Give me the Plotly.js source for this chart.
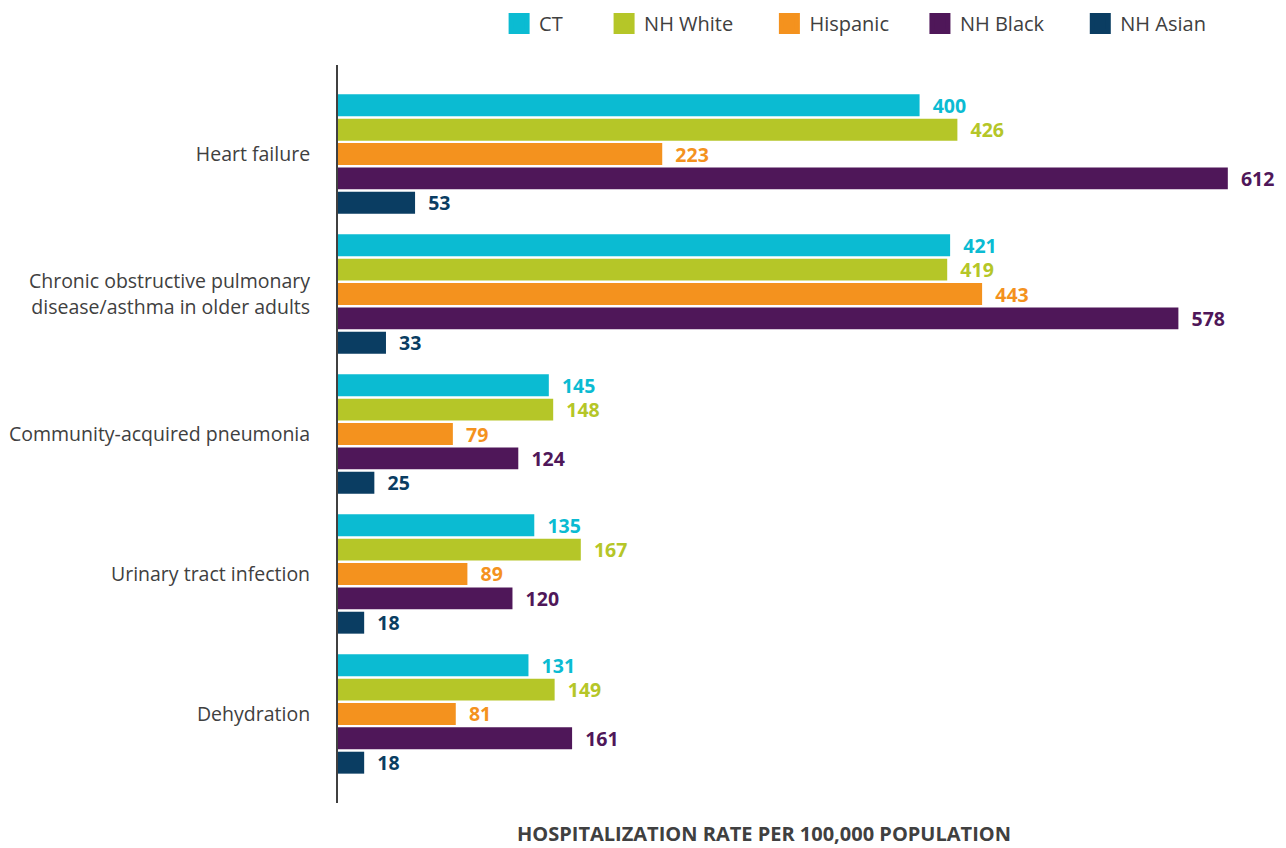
<!DOCTYPE html>
<html>
<head>
<meta charset="utf-8">
<script src="https://cdn.plot.ly/plotly-3.0.1.min.js"></script>
<style>html,body{margin:0;padding:0;background:#fff;}#chart{width:1286px;height:848px;}</style>
</head>
<body>
<div id="chart"></div>
<script>
const categories = ["Heart failure", "Chronic obstructive pulmonary<br>disease/asthma in older adults", "Community-acquired pneumonia", "Urinary tract infection", "Dehydration"];
const seriesNames = ["CT", "NH White", "Hispanic", "NH Black", "NH Asian"];
const ctValues = [400, 421, 145, 135, 131];
const nhWhiteValues = [426, 419, 148, 167, 149];
const hispanicValues = [223, 443, 79, 89, 81];
const nhBlackValues = [612, 578, 124, 120, 161];
const nhAsianValues = [53, 33, 25, 18, 18];
const xTitle = "HOSPITALIZATION RATE PER 100,000 POPULATION";

const seriesValues = [ctValues, nhWhiteValues, hispanicValues, nhBlackValues, nhAsianValues];
const colors = ["#0BBBD2", "#B5C628", "#F4921E", "#4F1759", "#0A3D62"];
const legendPad = [7, 6, 5, 6, 0];

const barTraces = seriesNames.map((name, i) => ({
  type: "bar",
  orientation: "h",
  name: name,
  legendgroup: name,
  showlegend: false,
  y: categories,
  x: seriesValues[i],
  marker: {color: colors[i]},
  text: seriesValues[i].map(v => "\u00a0\u00a0" + v),
  textposition: "outside",
  constraintext: "none",
  textfont: {color: colors[i], size: 19.5, family: "Open Sans", weight: "bold"},
  cliponaxis: false,
  hoverinfo: "x+name"
}));

// legend-only entries (larger square swatches)
const legendTraces = seriesNames.map((name, i) => ({
  type: "scatter",
  mode: "markers",
  name: name + "\u00a0".repeat(legendPad[i]),
  legendgroup: name,
  showlegend: true,
  x: [null],
  y: [null],
  marker: {symbol: "square", size: 16, color: colors[i], line: {color: colors[i], width: 5}},
  hoverinfo: "skip"
}));

const layout = {
  width: 1286,
  height: 848,
  margin: {l: 338, r: 48, t: 65, b: 45},
  paper_bgcolor: "#fff",
  plot_bgcolor: "#fff",
  font: {family: "Open Sans", color: "#404040", size: 19},
  barmode: "group",
  bargap: 0.13,
  bargroupgap: 0.1,
  showlegend: true,
  legend: {
    orientation: "h",
    xref: "paper",
    x: 0.179, xanchor: "left",
    yref: "container",
    y: 1 - 4 / 848, yanchor: "top",
    font: {size: 20, color: "#404040"},
    traceorder: "normal",
    itemsizing: "trace"
  },
  xaxis: {
    range: [0, 619],
    showgrid: false, zeroline: false, showline: false,
    showticklabels: false, ticks: ""
  },
  yaxis: {
    type: "category",
    range: [4.636, -0.636],
    showgrid: false, zeroline: false,
    showline: true, linecolor: "#404040", linewidth: 2,
    ticks: "", ticklabelstandoff: 22,
    tickfont: {size: 19.5, color: "#404040"}
  },
  annotations: [{
    text: xTitle,
    xref: "paper", yref: "paper",
    x: (764 - 338) / 900, y: 0,
    xanchor: "center", yanchor: "middle",
    yshift: -30,
    showarrow: false,
    font: {size: 20, color: "#404040", weight: "bold"}
  }]
};

Plotly.newPlot("chart", barTraces.concat(legendTraces), layout, {displayModeBar: false, responsive: false});
</script>
</body>
</html>
